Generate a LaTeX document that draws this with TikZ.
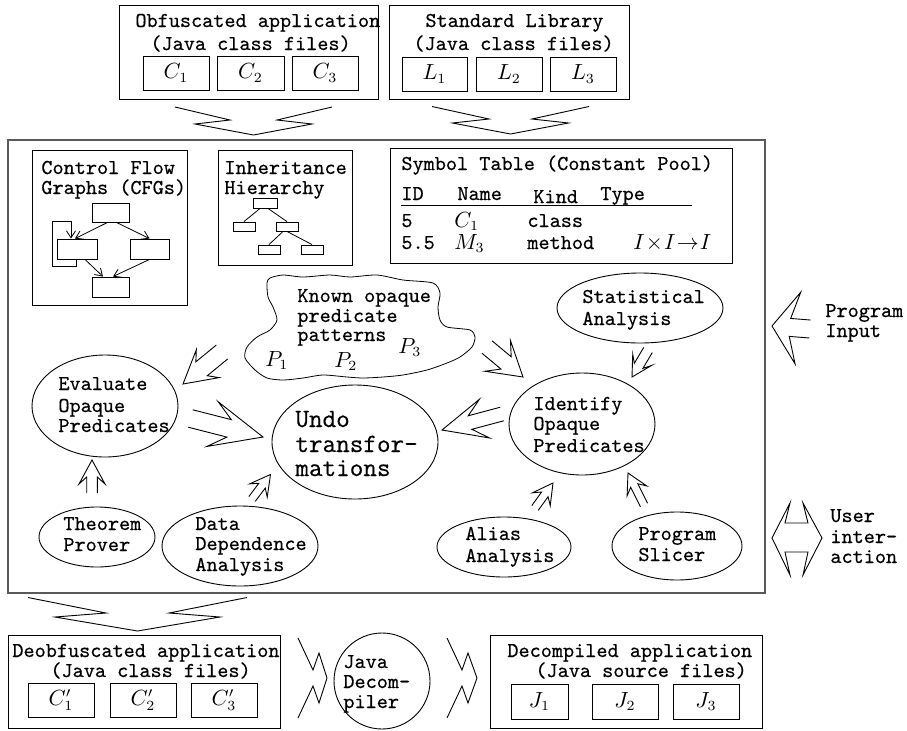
\documentclass[tikz,border=0pt]{standalone}
\usepackage{fontspec}
\newfontfamily\tttxt[FakeBold=0.45]{Latin Modern Mono}
\usetikzlibrary{calc,shapes.geometric,arrows.meta}
\tikzset{
 txt/.style={inner sep=0pt, anchor=base west, font=\fontsize{10.6}{12}\selectfont\tttxt},
 bigtxt/.style={inner sep=0pt, anchor=base west, font=\fontsize{13.2}{15}\selectfont\tttxt},
 mth/.style={inner sep=0pt, font=\fontsize{10.6}{12}\selectfont},
 box/.style={draw, line width=0.45pt, inner sep=0pt, rectangle, font=\fontsize{10.6}{12}\selectfont},
 ell/.style={draw, line width=0.45pt, ellipse, inner sep=0pt},
 fat/.style={draw, line width=0.45pt, line join=miter},
 cfgarrow/.style={draw, line width=0.4pt, -{Straight Barb[length=3.5pt,width=4.5pt]}},
 thinline/.style={draw, line width=0.4pt},
}
\newcommand\tl[4]{\node[txt] (#1) at (#2,#3) {#4};}
\newcommand\fatarrow[7]{%
 \pgfmathsetlengthmacro\faA{#3*0.5pt}%
 \pgfmathsetlengthmacro\faH{#4*0.5pt}%
 \pgfmathsetlengthmacro\faW{#5*0.5pt}%
 \pgfmathsetlengthmacro\faG{#6*0.5pt}%
 \pgfmathsetlengthmacro\faB{#7*0.5pt}%
 \coordinate (faS) at ($(#2)!\faH!(#1)$);
 \coordinate (faBb) at ($(#2)!\faG!(#1)$);
 \draw[fat] ($(#1)!\faA!90:(#2)$) -- ($(faS)!\faW!90:(#2)$) -- ($(faBb)!\faB!90:(#2)$) -- (#2) -- ($(faBb)!\faB!-90:(#2)$) -- ($(faS)!\faW!-90:(#2)$) -- ($(#1)!\faA!-90:(#2)$);
}
\begin{document}
\begin{tikzpicture}[x=0.5pt,y=-0.5pt]
\useasboundingbox (0,0) rectangle (907,730);

% top boxes
\node[box, minimum width=129.5pt, minimum height=47pt] (obf) at (248.5,52) {};
\node[box, minimum width=33pt, minimum height=17pt] (c1) at (176,73) {$C_1$};
\node[box, minimum width=33.5pt, minimum height=17pt] (c2) at (250.5,73) {$C_2$};
\node[box, minimum width=33pt, minimum height=17pt] (c3) at (325,73) {$C_3$};
\tl{tobf1}{135}{27}{Obfuscated application}
\tl{tobf2}{150}{50}{(Java class files)}

\node[box, minimum width=120pt, minimum height=47pt] (lib) at (509,52) {};
\node[box, minimum width=32.5pt, minimum height=17pt] (l1) at (434.5,74) {$L_1$};
\node[box, minimum width=33pt, minimum height=17pt] (l2) at (509,74) {$L_2$};
\node[box, minimum width=33pt, minimum height=17pt] (l3) at (583,74) {$L_3$};
\tl{tlib1}{425}{27}{Standard Library}
\tl{tlib2}{413}{50}{(Java class files)}

% main box
\node[box, draw=black!65, line width=0.7pt, minimum width=378.5pt, minimum height=226.5pt] (main) at (386.5,366.5) {};

% top chevrons
\coordinate (a1t) at (253.5,107); \coordinate (a1h) at (253.5,135);
\fatarrow{a1t}{a1h}{78.5}{15}{23.5}{11}{58.5}
\coordinate (a2t) at (510.5,106.5); \coordinate (a2h) at (510.5,134);
\fatarrow{a2t}{a2h}{78.5}{15}{21.5}{11}{58}

% CFG box
\node[box, minimum width=77.5pt, minimum height=77.5pt] (cfg) at (109.5,227.5) {};
\tl{tcfg1}{41}{174}{Control Flow}
\tl{tcfg2}{41}{194}{Graphs (CFGs)}
\node[box, minimum width=18.5pt, minimum height=9.5pt] (ct) at (110.5,212.5) {};
\node[box, minimum width=20pt, minimum height=10pt] (cl) at (77,249) {};
\node[box, minimum width=19.5pt, minimum height=10pt] (cr) at (149.5,249) {};
\node[box, minimum width=18.5pt, minimum height=10pt] (cb) at (110.5,287) {};
\draw[cfgarrow] ($(ct.south)+(-3,0)$) -- ($(cl.north)+(-2,0)$);
\draw[cfgarrow] ($(ct.south)+(6,0)$) -- (cr.north);
\draw[cfgarrow] ($(cl.south)+(8,0)$) -- ($(cb.north)+(-7.5,0)$);
\draw[cfgarrow] (cr.south) -- ($(cb.north)+(2.5,0)$);
\draw[cfgarrow] ($(cl.south)+(-1,0)$) -- ++(0,7) -| ++(-24,-45) -| ($(cl.north)+(-6,0)$);

% Inheritance box
\node[box, minimum width=67pt, minimum height=57.5pt] (inh) at (285,207.5) {};
\tl{tinh1}{224}{174}{Inheritance}
\tl{tinh2}{224}{194}{Hierarchy}
\node[box, minimum width=12pt, minimum height=5pt] (htop) at (265,203) {};
\node[box, minimum width=11pt, minimum height=4.5pt] (hl) at (244,226.5) {};
\node[box, minimum width=11pt, minimum height=4.5pt] (hm) at (287,226.5) {};
\node[box, minimum width=11pt, minimum height=4.5pt] (hbl) at (269,249.5) {};
\node[box, minimum width=11pt, minimum height=4.5pt] (hbr) at (312,249.5) {};
\draw[thinline] ($(htop.south)+(-5,0)$) -- (hl.north);
\draw[thinline] ($(htop.south)+(3,0)$) -- (hm.north);
\draw[thinline] ($(hm.south)+(-4,0)$) -- (hbl.north);
\draw[thinline] (hm.south) -- (hbr.north);

% Symbol table
\node[box, minimum width=171pt, minimum height=57.5pt] (sym) at (561,205.5) {};
\tl{tsym}{401}{170}{Symbol Table (Constant Pool)}
\tl{hid}{401}{200}{ID}
\tl{hname}{457}{200}{Name}
\tl{hkind}{533}{203}{Kind}
\tl{htype}{600}{200}{Type}
\draw[thinline] (401,205) -- (692,205);
\tl{r1a}{401}{227}{5}
\node[mth, anchor=base west] (r1b) at (454,227) {$C_1$};
\tl{r1c}{527}{227}{class}
\tl{r2a}{401}{249}{5.5}
\node[mth, anchor=base west] (r2b) at (454,249) {$M_3$};
\tl{r2c}{527}{249}{method}
\node[mth, anchor=base west] (r2d) at (633,249) {$I\mkern1mu{\times}\mkern1mu I\mkern1mu{\rightarrow}\mkern1mu I$};

% cloud
\draw[thinline] plot[smooth cycle, tension=0.45] coordinates {(267,283) (270,278) (283,275) (303,277) (330,275) (350,277) (377,275) (403,280) (433,283) (440,293) (438,307) (440,320) (447,327) (470,330) (475,337) (472,347) (460,357) (447,363) (427,370) (403,375) (383,377) (363,378) (347,377) (323,375) (303,378) (283,380) (267,378) (255,370) (245,358) (247,347) (257,337) (270,330) (277,320) (273,307) (268,297)};
\tl{tk1}{297}{302}{Known opaque}
\tl{tk2}{297}{322}{predicate}
\tl{tk3}{297}{341}{patterns}
\node[mth, anchor=base west] (p1) at (265,366) {$P_1$};
\node[mth, anchor=base west] (p2) at (334,367) {$P_2$};
\node[mth, anchor=base west] (p3) at (398,353) {$P_3$};

% ellipses
\node[ell, minimum width=73pt, minimum height=51pt] (eval) at (105,406) {};
\tl{te1}{58}{390}{Evaluate}
\tl{te2}{58}{412}{Opaque}
\tl{te3}{58}{432}{Predicates}
\node[ell, minimum width=83pt, minimum height=57pt] (undo) at (355,442) {};
\node[bigtxt] (tu1) at (295,427) {Undo};
\node[bigtxt] (tu2) at (295,452) {transfor-};
\node[bigtxt] (tu3) at (295,476) {mations};
\node[ell, minimum width=73pt, minimum height=51pt] (ident) at (582,424) {};
\tl{ti1}{533}{410}{Identify}
\tl{ti2}{533}{430}{Opaque}
\tl{ti3}{533}{452}{Predicates}
\node[ell, minimum width=83pt, minimum height=35pt] (stat) at (640,308) {};
\tl{ts1}{582}{303}{Statistical}
\tl{ts2}{582}{325}{Analysis}
\node[ell, minimum width=58pt, minimum height=30pt] (thm) at (97,537) {};
\tl{tt1}{63}{530}{Theorem}
\tl{tt2}{63}{551}{Prover}
\node[ell, minimum width=78pt, minimum height=40pt] (dda) at (240,546) {};
\tl{td1}{195}{530}{Data}
\tl{td2}{195}{550}{Dependence}
\tl{td3}{195}{571}{Analysis}
\node[ell, minimum width=67pt, minimum height=30pt] (alias) at (504,547) {};
\tl{ta1}{465}{540}{Alias}
\tl{ta2}{465}{562}{Analysis}
\node[ell, minimum width=65pt, minimum height=34pt] (slicer) at (677,546) {};
\tl{tp1}{638}{540}{Program}
\tl{tp2}{638}{561}{Slicer}

% inner fat arrows
\coordinate (b1t) at (222,352); \coordinate (b1h) at (183,384);
\fatarrow{b1t}{b1h}{9}{24}{9}{32}{18}
\coordinate (b2t) at (190.5,418.5); \coordinate (b2h) at (263,437);
\fatarrow{b2t}{b2h}{9}{35}{9}{52}{23}
\coordinate (b3t) at (92,493); \coordinate (b3h) at (92,460);
\fatarrow{b3t}{b3h}{5.3}{17}{5.3}{24}{13}
\coordinate (b4t) at (252,499); \coordinate (b4h) at (270.5,474.5);
\fatarrow{b4t}{b4h}{4}{14}{4}{20}{11}
\coordinate (b5t) at (535,508); \coordinate (b5h) at (553,483);
\fatarrow{b5t}{b5h}{4}{14}{4}{20}{11}
\coordinate (b6t) at (644,505); \coordinate (b6h) at (628,473);
\fatarrow{b6t}{b6h}{4}{14}{4}{20}{11}
\coordinate (b7t) at (648,350); \coordinate (b7h) at (632,377);
\fatarrow{b7t}{b7h}{5}{13}{5}{20}{11}
\coordinate (b8t) at (502,414); \coordinate (b8h) at (442,430);
\fatarrow{b8t}{b8h}{7}{29}{7}{44}{20}
\coordinate (b9t) at (487,347); \coordinate (b9h) at (523,377);
\fatarrow{b9t}{b9h}{8}{22}{8}{33}{20}

% right side
\coordinate (pit) at (810,329); \coordinate (pih) at (772,326);
\fatarrow{pit}{pih}{9}{18}{9}{26}{36}
\tl{tpi1}{825}{317}{Program}
\tl{tpi2}{825}{337}{Input}
\draw[fat] (785,523) -- (790,503) -- (772,538) -- (790,575) -- (785,552) -- (808,552) -- (803,575) -- (822,538) -- (803,503) -- (808,523) -- cycle;
\tl{tui1}{830}{522}{User}
\tl{tui2}{830}{543}{inter-}
\tl{tui3}{830}{563}{action}

% bottom
\coordinate (a3t) at (137.5,597.5); \coordinate (a3h) at (137.5,631);
\fatarrow{a3t}{a3h}{109.5}{18}{31.5}{14}{82.5}

\node[box, minimum width=136pt, minimum height=46.5pt] (deobf) at (144,681.5) {};
\node[box, minimum width=33pt, minimum height=17pt] (d1) at (61,700) {$C_1'$};
\node[box, minimum width=33pt, minimum height=17pt] (d2) at (143,700) {$C_2'$};
\node[box, minimum width=33pt, minimum height=17pt] (d3) at (224,700) {$C_3'$};
\tl{tdo1}{12}{657}{Deobfuscated application}
\tl{tdo2}{50}{677}{(Java class files)}

\coordinate (a4t) at (298,678); \coordinate (a4h) at (327,678);
\fatarrow{a4t}{a4h}{40}{14}{8}{8}{25}
\node[draw, circle, line width=0.45pt, minimum size=48pt, inner sep=0pt] (jdc) at (382,681) {};
\tl{tj1}{343}{668}{Java}
\tl{tj2}{343}{688}{Decom-}
\tl{tj3}{343}{708}{piler}
\coordinate (a5t) at (447,678); \coordinate (a5h) at (477,678);
\fatarrow{a5t}{a5h}{40}{15}{8}{9}{25}

\node[box, minimum width=136pt, minimum height=46.5pt] (decomp) at (626,681.5) {};
\node[box, minimum width=28.5pt, minimum height=17.5pt] (j1) at (539.5,701.5) {$J_1$};
\node[box, minimum width=33pt, minimum height=17.5pt] (j2) at (625,701.5) {$J_2$};
\node[box, minimum width=33pt, minimum height=17.5pt] (j3) at (706,701.5) {$J_3$};
\tl{tdc1}{507}{657}{Decompiled application}
\tl{tdc2}{535}{677}{(Java source files)}
\end{tikzpicture}
\end{document}
